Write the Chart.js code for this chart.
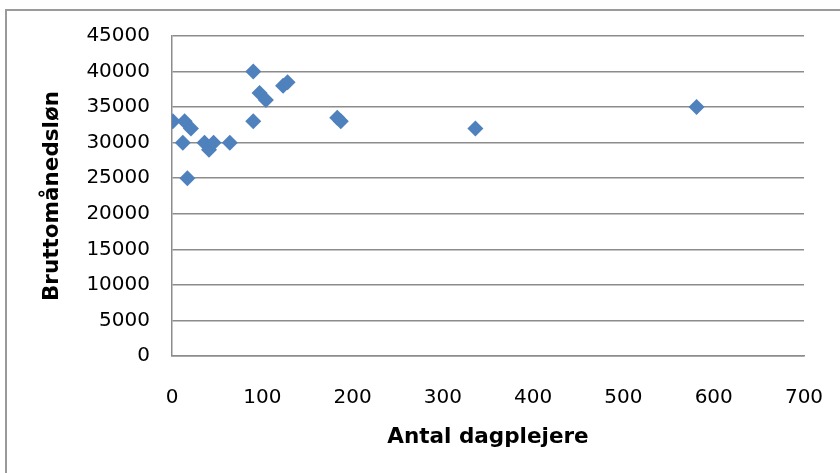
<!DOCTYPE html>
<html>
<head>
<meta charset="utf-8">
<script src="https://cdn.jsdelivr.net/npm/chart.js@4"></script>
<style>
  html, body { margin: 0; padding: 0; background: #fff; }
  #wrap { position: relative; width: 840px; height: 473px; overflow: hidden; }
  #frame {
    position: absolute; left: 5px; top: 9px; width: 900px; height: 600px;
    border: 2px solid #9a9a9a; pointer-events: none;
  }
</style>
</head>
<body>
<div id="wrap">
  <canvas id="chart" width="840" height="473"></canvas>
  <div id="frame"></div>
</div>
<script>
// Antal dagplejere vs. bruttomånedsløn
const dagplejere = [1, 12, 14, 17, 21, 36, 41, 46, 64, 90, 90, 97, 104, 123, 128, 183, 187, 336, 581];
const loen = [33000, 30000, 33000, 25000, 32000, 30000, 29000, 30000, 30000, 40000, 33000, 37000, 36000, 38000, 38500, 33500, 33000, 32000, 35000];

const xTitle = 'Antal dagplejere';
const yTitle = 'Bruttomånedsløn';

const gridColor = '#8c8c8c';
const markerColor = '#4f81bd';
const tickFont = { family: 'DejaVu Sans', size: 20 };
const titleFont = { family: 'DejaVu Sans', size: 21.5, weight: 'bold' };

const points = dagplejere.map((x, i) => ({ x, y: loen[i] }));
const plain = v => String(v);

new Chart(document.getElementById('chart'), {
  type: 'scatter',
  data: {
    datasets: [{
      data: points,
      pointStyle: 'rectRot',
      pointRadius: 8,
      pointHoverRadius: 8,
      backgroundColor: markerColor,
      borderColor: markerColor,
      borderWidth: 0
    }]
  },
  options: {
    responsive: false,
    animation: false,
    layout: { padding: { left: 0, top: 36, right: 36, bottom: 0 } },
    plugins: { legend: { display: false }, tooltip: { enabled: false } },
    scales: {
      x: {
        type: 'linear',
        min: 0,
        max: 700,
        ticks: { stepSize: 100, color: '#000', font: tickFont, padding: 30, maxRotation: 0, callback: plain },
        grid: { display: false, drawTicks: false },
        border: { display: true, color: gridColor, width: 1.5 },
        title: { display: true, text: xTitle, color: '#000', font: titleFont, padding: { top: 0, bottom: 23 } },
        afterFit: s => {
          s.height = 117;
          // plot edges are set by layout padding, not by the end labels
          s.paddingLeft = 0;
          s.paddingRight = 0;
        }
      },
      y: {
        min: 0,
        max: 45000,
        ticks: { stepSize: 5000, color: '#000', font: tickFont, padding: 22, callback: plain },
        grid: { color: gridColor, lineWidth: 1.5, drawTicks: false },
        border: { display: true, color: gridColor, width: 1.5 },
        title: { display: true, text: yTitle, color: '#000', font: titleFont, padding: { top: 40, bottom: 0 } },
        afterFit: s => { s.width = 172; }
      }
    }
  }
});
</script>
</body>
</html>
